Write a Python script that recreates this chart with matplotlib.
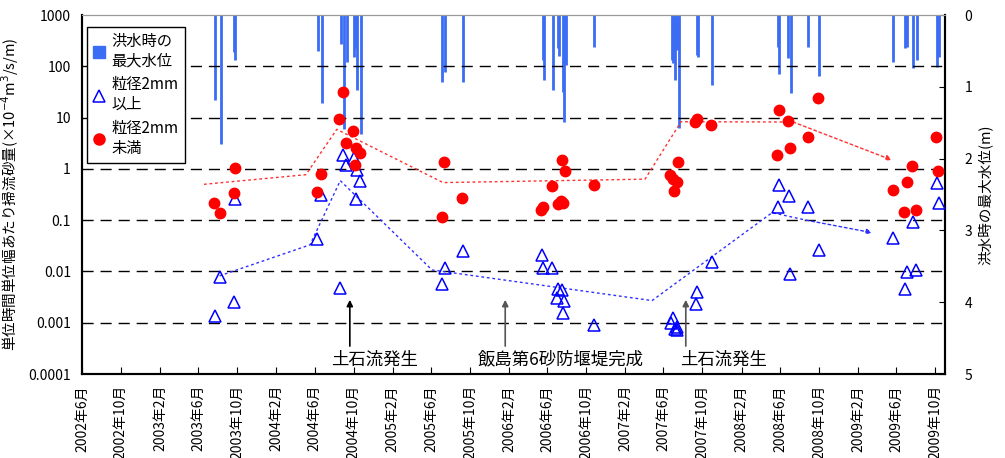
import numpy as np
import pandas as pd
import matplotlib
matplotlib.use('Agg')
import matplotlib.pyplot as plt
import matplotlib.dates as mdates
from matplotlib.lines import Line2D
from matplotlib.ticker import FixedLocator, FixedFormatter, FuncFormatter

plt.rcParams['font.family'] = ['Noto Sans CJK JP', 'DejaVu Sans']

# flood peak water level (m, hanging from top)
flood_dates = ['2003-07-24', '2003-08-10', '2003-09-22', '2003-09-26',
               '2004-06-12', '2004-06-23', '2004-08-21', '2004-08-31', '2004-09-10',
               '2004-10-03', '2004-10-07', '2004-10-11', '2004-10-23',
               '2005-07-07', '2005-07-15', '2005-09-09',
               '2006-05-18', '2006-05-23', '2006-06-18', '2006-07-05', '2006-07-08',
               '2006-07-21', '2006-07-24', '2006-07-30', '2006-10-26',
               '2007-06-27', '2007-07-02', '2007-07-07', '2007-07-14', '2007-07-20',
               '2007-09-13', '2007-09-17', '2007-10-31',
               '2008-05-27', '2008-05-30', '2008-06-27', '2008-07-04', '2008-08-29',
               '2008-10-01',
               '2009-05-22', '2009-06-28', '2009-07-04', '2009-07-24', '2009-08-05',
               '2009-10-07', '2009-10-13']
flood_level = [1.18, 1.79, 0.51, 0.62,
               0.50, 1.23, 0.41, 1.59, 0.66,
               0.58, 0.46, 1.04, 1.66,
               0.93, 0.80, 0.93,
               0.62, 0.91, 1.04, 0.46, 0.57,
               1.07, 1.49, 0.70, 0.45,
               0.63, 0.67, 0.91, 0.49, 1.58,
               0.56, 0.58, 0.97,
               0.44, 0.82, 0.60, 1.09, 0.44,
               0.85,
               0.65, 0.46, 0.45, 0.74, 0.62,
               0.72, 0.59]

# sediment >= 2mm
coarse_dates = ['2003-07-24', '2003-08-08', '2003-09-22', '2003-09-24',
                '2004-06-09', '2004-06-22', '2004-08-19', '2004-08-30', '2004-09-08',
                '2004-10-01', '2004-10-11', '2004-10-21', '2004-10-09',
                '2005-07-04', '2005-07-15', '2005-09-09',
                '2006-05-15', '2006-05-20', '2006-06-17', '2006-07-05', '2006-07-17',
                '2006-07-03', '2006-07-24', '2006-07-21', '2006-10-27',
                '2007-06-30', '2007-06-24', '2007-07-12', '2007-07-06', '2007-07-14',
                '2007-09-15', '2007-09-10', '2007-10-30',
                '2008-05-30', '2008-06-28', '2008-05-25', '2008-08-28', '2008-10-01',
                '2008-07-03',
                '2009-10-07', '2009-10-13', '2009-07-23', '2009-05-22', '2009-07-05',
                '2009-08-03', '2009-06-28']
coarse_vals = [0.00136, 0.0079, 0.0025, 0.26,
               0.042, 0.31, 0.0048, 1.9, 1.19,
               1.66, 0.94, 0.57, 0.26,
               0.0056, 0.0119, 0.0255,
               0.021, 0.0119, 0.0119, 0.0045, 0.0044,
               0.0030, 0.0026, 0.00157, 0.0009,
               0.00122, 0.00098, 0.00084, 0.00075, 0.00071,
               0.0039, 0.0023, 0.0151,
               0.49, 0.30, 0.18, 0.18, 0.026,
               0.0088,
               0.53, 0.22, 0.092, 0.044, 0.0099,
               0.0105, 0.0046]

# sediment < 2mm
fine_dates = ['2003-07-21', '2003-08-07', '2003-09-24', '2003-09-20',
              '2004-06-09', '2004-06-21', '2004-08-17', '2004-08-30', '2004-09-07',
              '2004-09-29', '2004-10-08', '2004-10-20', '2004-10-06',
              '2005-07-13', '2005-09-07', '2005-07-04',
              '2006-07-17', '2006-07-26', '2006-06-16', '2006-05-20', '2006-05-13',
              '2006-07-04', '2006-07-13', '2006-07-21', '2006-10-26',
              '2007-07-17', '2007-06-22', '2007-07-02', '2007-07-14', '2007-07-04',
              '2007-09-07', '2007-09-15', '2007-10-28',
              '2008-05-29', '2008-06-26', '2008-09-29', '2008-08-27', '2008-07-02',
              '2008-05-24',
              '2009-10-05', '2009-10-10', '2009-07-21', '2009-07-04', '2009-05-22',
              '2009-06-26', '2009-08-03']
fine_vals = [0.22, 0.14, 1.03, 0.34,
             0.35, 0.79, 9.3, 32, 3.2,
             5.6, 2.5, 2.0, 1.17,
             1.36, 0.275, 0.117,
             1.49, 0.90, 0.47, 0.18, 0.158,
             0.21, 0.24, 0.22, 0.49,
             1.38, 0.75, 0.64, 0.56, 0.37,
             8.2, 9.3, 7.2,
             14, 8.7, 24, 4.1, 2.5,
             1.84,
             4.1, 0.91, 1.12, 0.56, 0.38,
             0.145, 0.158]

# hand-drawn trend lines
fine_trend_dates = ['2003-06-19', '2004-05-04', '2004-08-09', '2005-07-09',
                    '2007-04-04', '2007-07-26', '2008-07-12', '2009-05-18']
fine_trend_vals = [0.50, 0.77, 5.9, 0.54, 0.63, 8.3, 8.2, 1.49]
coarse_trend_dates = ['2003-08-07', '2004-05-17', '2004-08-20', '2005-06-04',
                      '2007-04-26', '2008-05-07', '2008-08-22', '2009-03-17']
coarse_trend_vals = [0.0082, 0.033, 0.59, 0.0107, 0.0027, 0.14, 0.10, 0.057]

# events
event_dates = ['2004-09-19', '2006-01-20', '2007-08-10']
event_text_dates = ['2004-12-07', '2006-07-14', '2007-12-05']
event_labels = ['土石流発生', '飯島第6砂防堰堤完成', '土石流発生']
event_colors = ['black', '#555555', '#555555']

ytick_vals = [1000, 100, 10, 1, 0.1, 0.01, 0.001, 0.0001]
ytick_labels = ['1000', '100', '10', '1', '0.1', '0.01', '0.001', '0.0001']

BLUE_BAR = '#3a6cf4'

fig = plt.figure(figsize=(10.05, 4.58), dpi=100)
ax = fig.add_axes([0.0816, 0.1834, 0.8587, 0.7838])
ax2 = ax.twinx()
ax.set_zorder(ax2.get_zorder() + 1)
ax.patch.set_visible(False)

d = pd.to_datetime
ax2.vlines(d(flood_dates), 0, flood_level, color=BLUE_BAR, lw=2)
ax2.set_ylim(5, 0)
ax2.set_yticks([0, 1, 2, 3, 4, 5])
ax2.tick_params(axis='y', direction='in', length=4, labelsize=10, pad=14)
ax2.set_ylabel('洪水時の最大水位(m)', fontsize=10.5, labelpad=4)

for yv in ytick_vals[1:-1]:
    ax.axhline(yv, color='black', lw=1, ls=(0, (8, 5)), zorder=1)

ax.plot(d(fine_trend_dates[:-1]), fine_trend_vals[:-1], color='#ff3030', lw=1, ls=(0, (2, 2)))
ax.plot(d(coarse_trend_dates[:-1]), coarse_trend_vals[:-1], color='#3030ff', lw=1, ls=(0, (2, 2)))
ax.annotate('', xy=(d(fine_trend_dates[-1]), fine_trend_vals[-1]),
            xytext=(d(fine_trend_dates[-2]), fine_trend_vals[-2]),
            arrowprops=dict(arrowstyle='-|>', color='#ff3030', lw=1, ls=(0, (2, 2)),
                            mutation_scale=8, shrinkA=0, shrinkB=0))
ax.annotate('', xy=(d(coarse_trend_dates[-1]), coarse_trend_vals[-1]),
            xytext=(d(coarse_trend_dates[-2]), coarse_trend_vals[-2]),
            arrowprops=dict(arrowstyle='-|>', color='#3030ff', lw=1, ls=(0, (2, 2)),
                            mutation_scale=8, shrinkA=0, shrinkB=0))

ax.plot(d(coarse_dates), coarse_vals, ls='none', marker='^', ms=8.5,
        mfc='none', mec='#0000ff', mew=1.1, zorder=4)
ax.plot(d(fine_dates), fine_vals, ls='none', marker='o', ms=7.5,
        mfc='#ff0000', mec='#ff0000', zorder=5)

for xd, td, lab, col in zip(event_dates, event_text_dates, event_labels, event_colors):
    ax.annotate('', xy=(d(xd), 0.0028), xytext=(d(xd), 0.00035),
                arrowprops=dict(arrowstyle='-|>', color=col, lw=1.2,
                                mutation_scale=9, shrinkA=0, shrinkB=0))
    ax.text(d(td), 0.00019, lab, ha='center', va='center', fontsize=12.5)

ax.set_yscale('log')
ax.set_ylim(0.0001, 1000)
ax.yaxis.set_major_locator(FixedLocator(ytick_vals))
ax.yaxis.set_major_formatter(FixedFormatter(ytick_labels))
ax.yaxis.set_minor_locator(FixedLocator([]))
ax.tick_params(axis='y', length=0, labelsize=10, pad=8)
ax.set_ylabel('単位時間単位幅あたり掃流砂量(×10$^{-4}$m$^{3}$/s/m)', fontsize=10.5, labelpad=5)

ax.set_xlim(d('2002-06-01'), d('2009-11-01'))
ax.xaxis.set_major_locator(mdates.MonthLocator(bymonth=[2, 6, 10]))
ax.xaxis.set_major_formatter(FuncFormatter(
    lambda v, pos: '{}年{}月'.format(mdates.num2date(v).year, mdates.num2date(v).month)))
ax.tick_params(axis='x', direction='in', length=5, labelsize=10, rotation=90, pad=8)

for s in ['left', 'bottom', 'right']:
    ax.spines[s].set_linewidth(1.5)
    ax2.spines[s].set_linewidth(1.5)
ax.spines['top'].set_color('#999999')
ax2.spines['top'].set_color('#999999')

handles = [Line2D([], [], ls='none', marker='s', ms=8, mfc=BLUE_BAR, mec=BLUE_BAR),
           Line2D([], [], ls='none', marker='^', ms=8.5, mfc='none', mec='#0000ff', mew=1.1),
           Line2D([], [], ls='none', marker='o', ms=8, mfc='#ff0000', mec='#ff0000')]
labels = ['洪水時の\n最大水位', '粒径2mm\n以上', '粒径2mm\n未満']
leg = ax.legend(handles, labels, loc='upper left', bbox_to_anchor=(0.006, 0.967),
                borderaxespad=0, fontsize=11, fancybox=False, framealpha=1,
                edgecolor='black', handlelength=0.8, handletextpad=0.4,
                labelspacing=0.45, borderpad=0.4)
leg.get_frame().set_linewidth(1)

plt.savefig('out.png', dpi=100)
